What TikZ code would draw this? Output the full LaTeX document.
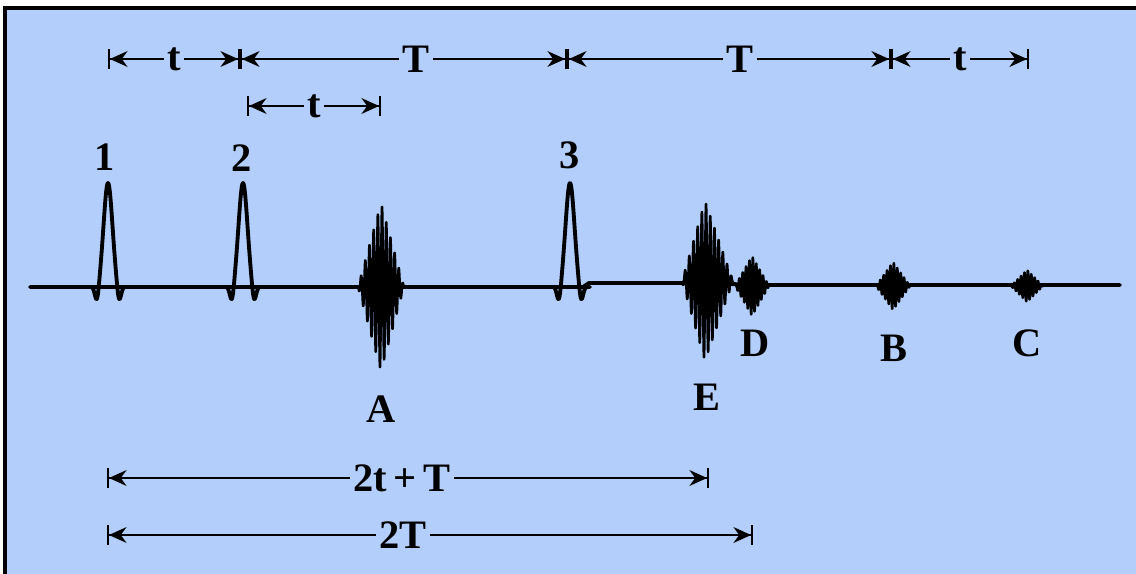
\documentclass[tikz,border=0pt]{standalone}
\usepackage{fontspec}
\setmainfont{Liberation Serif}
\usetikzlibrary{arrows.meta}
\definecolor{bg}{RGB}{179,206,250}
\begin{document}
\begin{tikzpicture}[x=0.02cm,y=-0.02cm,
  dim/.style={line width=1.1pt,{Bar[width=11pt]Stealth[length=10pt,width=9pt]}-{Stealth[length=10pt,width=9pt]Bar[width=11pt]}},
  lbl/.style={font=\fontsize{23}{23}\selectfont\bfseries, inner sep=0pt},
  dimlbl/.style={lbl, fill=bg, inner xsep=2pt, inner ysep=1pt},
  wave/.style={line width=2.2pt, line join=round, line cap=round},
  burst/.style={line width=1.4pt, line join=round},
  declare function={
    pulse(\u)=104*exp(-(\u/6.2)^2)-16*exp(-((\u-11)/2.8)^2)-16*exp(-((\u+11)/2.8)^2);
    tri(\u,\l,\r)=(\u<0)?max(0,1+\u/\l):max(0,1-\u/\r);
    bur(\u,\a,\l,\r,\p)=\a*tri(\u,\l,\r)*sin(360*\u/\p);
  }]
\useasboundingbox (0,0) rectangle (1136,574);
\fill[white] (0,0) rectangle (1136,574);
\begin{scope}
\clip (0,0) rectangle (1136,574);
\draw[line width=2pt, fill=bg] (5,8) rectangle (1150,590);
\end{scope}

% top dimension rows
\coordinate (t0) at (108,59);
\coordinate (t1) at (240,59);
\coordinate (t2) at (567,59);
\coordinate (t3) at (891,59);
\coordinate (t4) at (1029,59);
\draw[dim] (t0) -- node[dimlbl] (lta) {t} (t1);
\draw[dim] (t1) -- node[dimlbl, pos=0.538] (lTa) {T} (t2);
\draw[dim] (t2) -- node[dimlbl, pos=0.534] (lTb) {T} (t3);
\draw[dim] (t3) -- node[dimlbl] (ltb) {t} (t4);
\coordinate (s0) at (247,106);
\coordinate (s1) at (381,106);
\draw[dim] (s0) -- node[dimlbl] (ltc) {t} (s1);

% bottom dimension rows
\coordinate (b0) at (107,478);
\coordinate (b1) at (709,478);
\coordinate (c0) at (107,535);
\coordinate (c1) at (753,535);
\draw[dim] (b0) -- node[dimlbl, pos=0.49] (l2tT) {2t\,+\,T} (b1);
\draw[dim] (c0) -- node[dimlbl, pos=0.458] (l2T) {2T} (c1);

% baseline
\draw[wave] (30,287) -- (583,287) -- (589,283) -- (700,283) -- (760,285) -- (1120,285);
% pulses
\foreach \c in {108,243}{
  \draw[wave] plot[domain=-22:22, samples=140] ({\c+\x},{287-pulse(\x)});
}
\draw[wave] plot[domain=-22:20, samples=140] ({570+\x},{287-pulse(\x)});
% bursts
\draw[burst] plot[domain=-23:23, samples=500] ({381+\x},{287-bur(\x,84,23,23,4.2)});
\draw[burst] plot[domain=-23:28, samples=500] ({705+\x},{281-bur(\x,80,23,28,4.2)});
\draw[burst] plot[domain=-17:17, samples=300] ({752+\x},{286-bur(\x,30,17,17,3.4)});
\draw[burst] plot[domain=-17:17, samples=300] ({893+\x},{286-bur(\x,24,17,17,3.4)});
\draw[burst] plot[domain=-16:16, samples=300] ({1027+\x},{286-bur(\x,16,16,16,3.4)});

% labels
\node[lbl] (n1) at (105,157) {1};
\node[lbl] (n2) at (242,158) {2};
\node[lbl] (n3) at (570,155) {3};
\node[lbl] (nA) at (381,409) {A};
\node[lbl] (nE) at (707,397) {E};
\node[lbl] (nD) at (755,343) {D};
\node[lbl] (nB) at (894,348) {B};
\node[lbl] (nC) at (1027,343) {C};
\end{tikzpicture}
\end{document}
